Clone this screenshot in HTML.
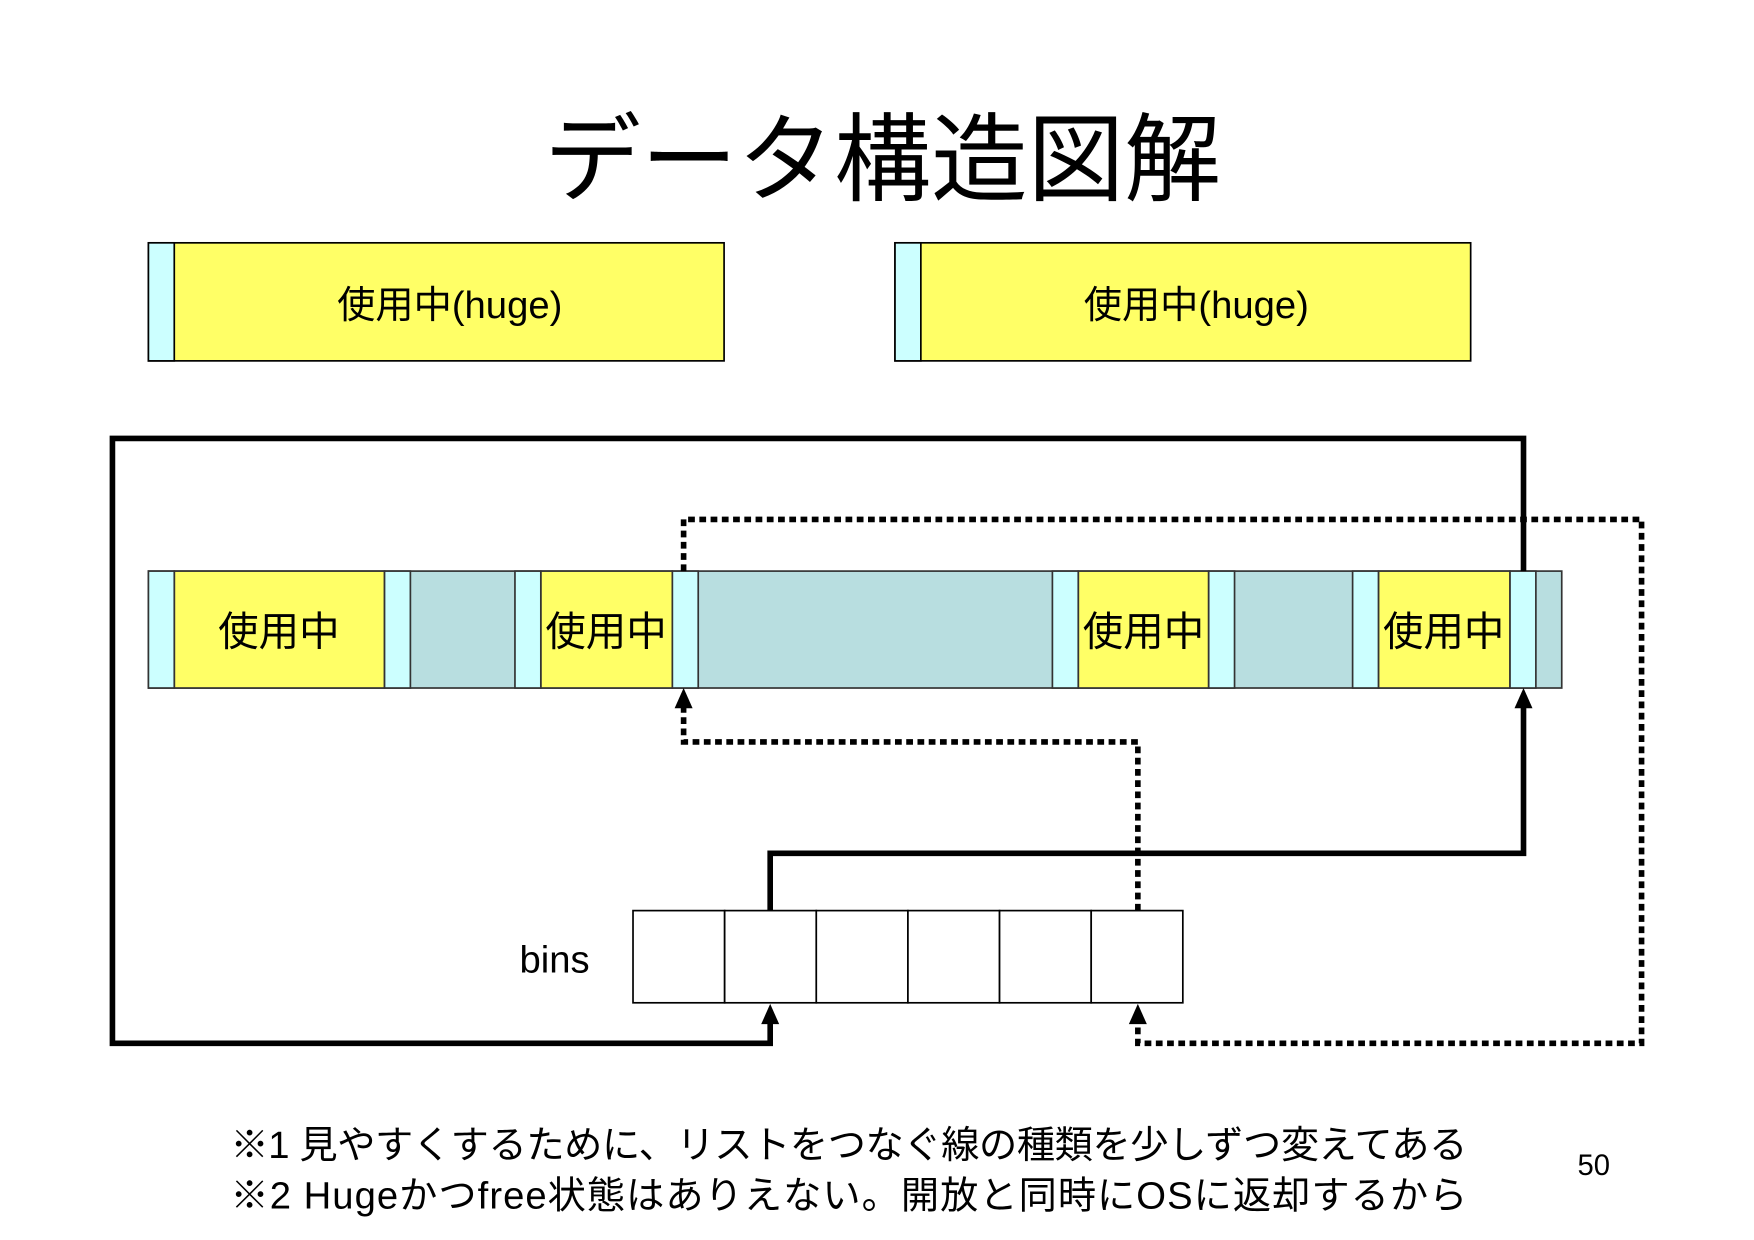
<!DOCTYPE html>
<html><head><meta charset="utf-8"><style>
html,body{margin:0;padding:0;background:#fff;width:1754px;height:1240px;overflow:hidden}
svg{display:block}
text{font-family:"Liberation Sans","Noto Sans CJK JP",sans-serif;fill:#000}
</style></head><body>
<svg width="1754" height="1240" viewBox="0 0 1560 1103" preserveAspectRatio="none" xmlns="http://www.w3.org/2000/svg">
<defs><marker id="a" markerWidth="6" markerHeight="6" refX="3" refY="5.5" orient="auto" markerUnits="userSpaceOnUse" viewBox="0 0 6 6"></marker></defs>
<text x="785" y="172" font-size="86" text-anchor="middle">データ構造図解</text>
<g stroke="#000" stroke-width="1.5">
<rect x="132" y="216" width="512" height="105" fill="#FFFF66"/><rect x="132" y="216" width="23" height="105" fill="#CCFFFF"/>
<rect x="796" y="216" width="512" height="105" fill="#FFFF66"/><rect x="796" y="216" width="23" height="105" fill="#CCFFFF"/>
</g>
<text x="400" y="283" font-size="34" text-anchor="middle">使用中(huge)</text>
<text x="1064" y="283" font-size="34" text-anchor="middle">使用中(huge)</text>
<g stroke="#333" stroke-width="1.5">
<rect x="132" y="508" width="1257" height="104" fill="#B8DEE0"/>
<rect x="155" y="508" width="187" height="104" fill="#FFFF66"/>
<rect x="481" y="508" width="117" height="104" fill="#FFFF66"/>
<rect x="959" y="508" width="116" height="104" fill="#FFFF66"/>
<rect x="1226" y="508" width="117" height="104" fill="#FFFF66"/>
<g fill="#CCFFFF">
<rect x="132" y="508" width="23" height="104"/><rect x="342" y="508" width="23" height="104"/>
<rect x="458" y="508" width="23" height="104"/><rect x="598" y="508" width="23" height="104"/>
<rect x="936" y="508" width="23" height="104"/><rect x="1075" y="508" width="23" height="104"/>
<rect x="1203" y="508" width="23" height="104"/><rect x="1343" y="508" width="23" height="104"/>
</g></g>
<g font-size="36" text-anchor="middle">
<text x="248" y="574">使用中</text><text x="539" y="574">使用中</text>
<text x="1017" y="574">使用中</text><text x="1284" y="574">使用中</text>
</g>
<g fill="none" stroke="#000" stroke-width="5">
<polyline points="1355,508 1355,390 100,390 100,928 685,928 685,908"/>
<polyline points="685,810 685,759 1355,759 1355,628"/>
</g>
<g fill="none" stroke="#000" stroke-width="5" stroke-dasharray="6,4">
<polyline points="608,508 608,462 1460,462 1460,928 1012,928 1012,908"/>
<polyline points="1012,810 1012,660 608,660 608,628"/>
</g>
<g fill="#000">
<polygon points="685,893 677,911 693,911"/>
<polygon points="1355,612 1347,630 1363,630"/>
<polygon points="1012,893 1004,911 1020,911"/>
<polygon points="608,612 600,630 616,630"/>
</g>
<g fill="#fff" stroke="#000" stroke-width="1.5">
<rect x="563" y="810" width="81.5" height="82"/><rect x="644.5" y="810" width="81.5" height="82"/>
<rect x="726" y="810" width="81.5" height="82"/><rect x="807.5" y="810" width="81.5" height="82"/>
<rect x="889" y="810" width="81.5" height="82"/><rect x="970.5" y="810" width="81.5" height="82"/>
</g>
<text x="462" y="865" font-size="34">bins</text>
<text x="205" y="1030" font-size="34" textLength="1100">※1 見やすくするために、リストをつなぐ線の種類を少しずつ変えてある</text>
<text x="205" y="1075" font-size="34" textLength="1100">※2 Hugeかつfree状態はありえない。開放と同時にOSに返却するから</text>
<text x="1403" y="1045" font-size="26">50</text>
</svg>
</body></html>
